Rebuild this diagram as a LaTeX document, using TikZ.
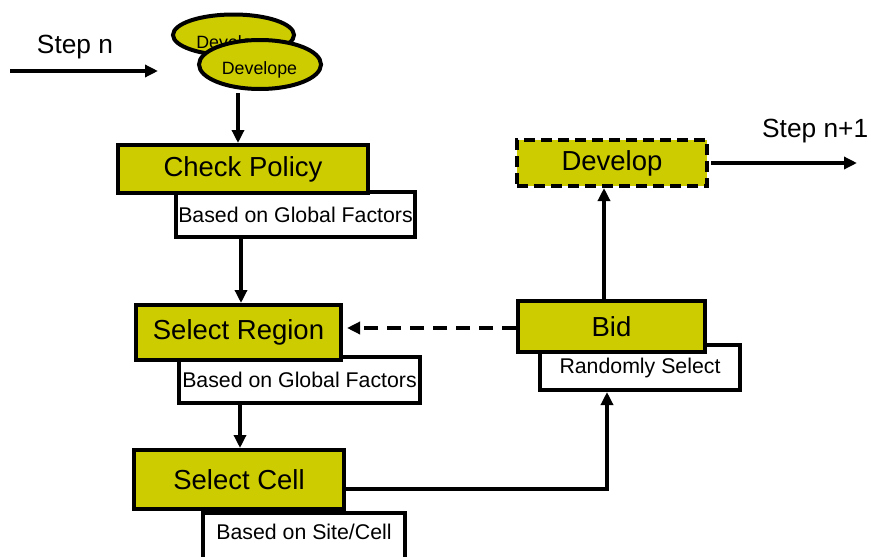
\documentclass[tikz,border=0pt]{standalone}
\usepackage{fontspec}
\setmainfont{Liberation Sans}
\usetikzlibrary{arrows.meta,calc,shapes.geometric}
\definecolor{olive}{HTML}{CCCC00}
\begin{document}
\begin{tikzpicture}[x=1pt,y=-1pt,
  mainbox/.style={draw=black,line width=4pt,fill=olive,rectangle,inner sep=0pt,
    font=\fontsize{27.5}{32}\selectfont},
  subbox/.style={draw=black,line width=4pt,fill=white,rectangle,inner sep=0pt,
    font=\fontsize{21.3}{25}\selectfont},
  subtext/.style={inner sep=0pt,font=\fontsize{21.3}{25}\selectfont},
  bubble/.style={draw=black,line width=4pt,fill=olive,ellipse,inner sep=0pt},
  bubbletext/.style={inner sep=0pt,font=\fontsize{17.8}{20}\selectfont},
  steptext/.style={inner sep=0pt,font=\fontsize{26.3}{30}\selectfont},
  flow/.style={line width=3.5pt,-{Triangle[length=13pt,width=12pt]}},
  back/.style={flow,dash pattern=on 14pt off 9pt}
]
\useasboundingbox (0,0) rectangle (871,557);

% stacked "Develope" ellipses
\node[bubble,minimum width=121,minimum height=41] (ellA) at (233.5,35) {};
\node[bubbletext] (ellAt) at (234,44) {Develope};
\node[bubble,minimum width=122,minimum height=49] (ellB) at (260,64.5) {};
\node[bubbletext] (ellBt) at (259.5,69.5) {Develope};

% sub boxes first, so the main boxes overlap them
\node[subbox,minimum width=239,minimum height=45] (cpsub) at (295.5,214.5) {Based on Global Factors};
\node[subbox,minimum width=241,minimum height=46] (srsub) at (299.5,380) {Based on Global Factors};
\node[subbox,minimum width=202,minimum height=90,anchor=north] (scsub) at (304,511) {};
\node[subtext] (scsubt) at (304,532) {Based on Site/Cell};
\node[subbox,minimum width=200,minimum height=45] (bidsub) at (640,367.5) {Randomly Select};

% main boxes
\node[mainbox,minimum width=250,minimum height=48] (cp) at (243,169) {Check Policy};
\node[mainbox,minimum width=205,minimum height=55] (sr) at (238.5,332.5) {Select Region};
\node[mainbox,minimum width=210,minimum height=59] (sc) at (239,479.5) {Select Cell};
\node[mainbox,minimum width=187,minimum height=51] (bid) at (611.5,326.5) {Bid};
\node[mainbox,dash pattern=on 11pt off 6pt,minimum width=190,minimum height=46] (dev) at (612,163) {Develop};

% step labels
\node[steptext] (stepn) at (75,47) {Step n};
\node[steptext,anchor=west] (stepn1) at (762,131) {Step n+1};

% free ends of the entry and exit arrows
\coordinate (inA) at (10,71);
\coordinate (inB) at (158,71);
\coordinate (ellfoot) at (238,93);
\coordinate (outB) at (857,163);
\coordinate (turn) at (607,489);

% connectors
\draw[flow] (inA) -- (inB);
\draw[flow] (ellfoot) -- (ellfoot |- cp.north);
\draw[flow] ([xshift=-54.5pt]cpsub.south) -- ([xshift=-54.5pt]cpsub.south |- sr.north);
\draw[flow] ([xshift=-59.5pt]srsub.south) -- ([xshift=-59.5pt]srsub.south |- sc.north);
\draw[flow] (sc.east |- turn) -- (turn) -- (turn |- bidsub.south);
\draw[flow] ([xshift=-7.5pt]bid.north) -- ([xshift=-7.5pt]bid.north |- dev.south);
\draw[back] ([yshift=-1.5pt]bid.west) -- ([yshift=-1.5pt,xshift=4pt]bid.west -| sr.east);
\draw[flow] ([xshift=2pt]dev.east) -- (outB);
\end{tikzpicture}
\end{document}
